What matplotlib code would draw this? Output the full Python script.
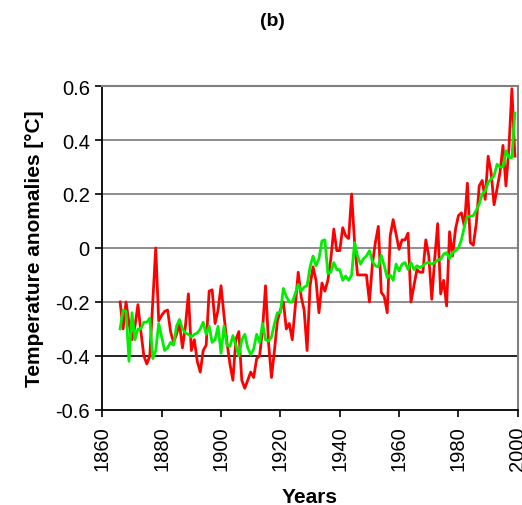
import numpy as np
import matplotlib
matplotlib.use('Agg')
import matplotlib.pyplot as plt

plt.rcParams['font.family'] = ['Liberation Sans', 'DejaVu Sans']

# Annual temperature anomalies (deg C), 1866-1999
years = np.arange(1866, 2000)

observed = [
    -0.20, -0.30, -0.20, -0.28,                                      # 1866-1869
    -0.34, -0.29, -0.21, -0.31, -0.40, -0.43, -0.40, -0.20, 0.00, -0.27,   # 1870s
    -0.25, -0.235, -0.23, -0.31, -0.35, -0.32, -0.28, -0.37, -0.29, -0.17, # 1880s
    -0.38, -0.34, -0.42, -0.46, -0.38, -0.36, -0.16, -0.155, -0.28, -0.23, # 1890s
    -0.14, -0.25, -0.35, -0.43, -0.49, -0.34, -0.31, -0.49, -0.52, -0.49,  # 1900s
    -0.46, -0.48, -0.41, -0.40, -0.30, -0.14, -0.35, -0.48, -0.38, -0.27,  # 1910s
    -0.23, -0.20, -0.30, -0.28, -0.34, -0.22, -0.09, -0.18, -0.23, -0.38,  # 1920s
    -0.14, -0.07, -0.12, -0.24, -0.13, -0.16, -0.12, -0.04, 0.07, -0.01,   # 1930s
    -0.01, 0.075, 0.045, 0.035, 0.20, 0.02, -0.10, -0.10, -0.10, -0.10,    # 1940s
    -0.20, -0.06, 0.02, 0.08, -0.165, -0.18, -0.24, 0.045, 0.105, 0.05,    # 1950s
    -0.005, 0.03, 0.03, 0.055, -0.20, -0.14, -0.08, -0.09, -0.09, 0.03,    # 1960s
    -0.03, -0.19, -0.04, 0.09, -0.17, -0.12, -0.215, 0.06, -0.03, 0.07,    # 1970s
    0.12, 0.13, 0.08, 0.24, 0.02, 0.01, 0.09, 0.23, 0.25, 0.18,            # 1980s
    0.34, 0.28, 0.16, 0.22, 0.28, 0.38, 0.23, 0.37, 0.59, 0.34,            # 1990s
]

simulated = [
    -0.30, -0.23, -0.235, -0.42,                                            # 1866-1869
    -0.24, -0.34, -0.30, -0.30, -0.275, -0.275, -0.26, -0.41, -0.38, -0.28, # 1870s
    -0.33, -0.38, -0.37, -0.35, -0.36, -0.29, -0.265, -0.30, -0.315, -0.32, # 1880s
    -0.33, -0.32, -0.315, -0.30, -0.275, -0.32, -0.29, -0.35, -0.34, -0.29, # 1890s
    -0.39, -0.29, -0.36, -0.365, -0.325, -0.36, -0.40, -0.34, -0.32, -0.37, # 1900s
    -0.395, -0.375, -0.32, -0.35, -0.28, -0.34, -0.345, -0.33, -0.28, -0.24, # 1910s
    -0.24, -0.15, -0.18, -0.20, -0.20, -0.17, -0.135, -0.16, -0.145, -0.14, # 1920s
    -0.07, -0.03, -0.066, -0.04, 0.026, 0.03, -0.095, -0.09, -0.054, -0.08, # 1930s
    -0.08, -0.12, -0.104, -0.12, -0.10, 0.02, -0.03, -0.06, -0.04, -0.03,   # 1940s
    -0.01, -0.05, -0.066, -0.07, -0.027, -0.066, -0.11, -0.10, -0.12, -0.06, # 1950s
    -0.085, -0.06, -0.054, -0.08, -0.054, -0.08, -0.066, -0.073, -0.066, -0.056, # 1960s
    -0.054, -0.06, -0.054, -0.045, -0.042, -0.023, -0.017, -0.04, -0.017, -0.01, # 1970s
    0.0, 0.03, 0.08, 0.117, 0.117, 0.12, 0.14, 0.163, 0.20, 0.21,          # 1980s
    0.243, 0.255, 0.268, 0.31, 0.30, 0.30, 0.36, 0.335, 0.335, 0.50,       # 1990s
]

y_ticks = [-0.6, -0.4, -0.2, 0, 0.2, 0.4, 0.6]
x_ticks = [1860, 1880, 1900, 1920, 1940, 1960, 1980, 2000]

fig = plt.figure(figsize=(5.22, 5.06), dpi=100)
ax = fig.add_axes([0.196, 0.188, 0.796, 0.640])

# horizontal grid
for v in y_ticks[1:-1]:
    ax.axhline(v, color='#000000' if v == -0.4 else '#7a7a7a', lw=1.2, zorder=1)

ax.plot(years, observed, color='#ff0000', lw=2, zorder=3)
ax.plot(years, simulated, color='#00ee00', lw=2, zorder=4)

ax.set_xlim(1860, 2000)
ax.set_ylim(-0.6, 0.6)
ax.set_yticks(y_ticks)
ax.set_yticklabels(['-0.6', '-0.4', '-0.2', '0', '0.2', '0.4', '0.6'])
ax.set_xticks(x_ticks)
ax.set_xticklabels([str(x) for x in x_ticks], rotation=90)

ax.tick_params(axis='both', direction='out', length=5, width=1.2,
               labelsize=14.5, colors='black')
ax.tick_params(axis='x', pad=6)
ax.tick_params(axis='y', pad=4)

for side in ['left', 'bottom']:
    ax.spines[side].set_color('black')
    ax.spines[side].set_linewidth(1.3)
for side in ['top', 'right']:
    ax.spines[side].set_color('#808080')
    ax.spines[side].set_linewidth(1.5)

ax.set_xlabel('Years', fontsize=15, fontweight='bold', labelpad=12)
ax.set_ylabel('Temperature anomalies [°C]', fontsize=15, fontweight='bold', labelpad=8)

fig.text(272 / 522, 1 - 22 / 506, '(b)', fontsize=14, fontweight='bold',
         ha='center', va='center')

fig.savefig('out.png', dpi=100)
